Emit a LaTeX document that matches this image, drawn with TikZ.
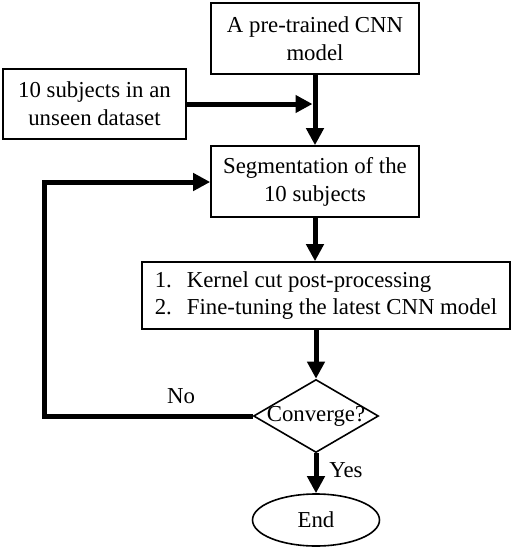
\documentclass[tikz,border=0pt]{standalone}
\usepackage{fontspec}
\setmainfont{Liberation Serif}
\usetikzlibrary{shapes.geometric,arrows.meta}
\begin{document}
\begin{tikzpicture}[x=1pt,y=-1pt,
  every node/.style={font=\fontsize{22.8}{28}\selectfont},
  box/.style={draw,line width=1.6pt,inner sep=0pt,align=center},
  flow/.style={line width=5pt,-{Triangle[length=17pt,width=17pt]}},
  plain/.style={line width=5pt}]
\useasboundingbox (0,0) rectangle (513,550);
\node[box,minimum width=208pt,minimum height=71pt] (A) at (315,38.5) {A pre-trained CNN\\model};
\node[box,minimum width=183pt,minimum height=70pt] (B) at (94.5,104) {10 subjects in an\\unseen dataset};
\node[box,minimum width=208pt,minimum height=71pt] (S) at (315,181.5) {Segmentation of the\\10 subjects};
\node[box,minimum width=368pt,minimum height=67pt] (L) at (326,295.5) {\begin{tabular}{@{}l@{\hspace{15pt}}l@{}}1.&Kernel cut post-processing\\[-1pt]2.&Fine-tuning the latest CNN model\end{tabular}};
\node[draw,diamond,line width=1.6pt,inner sep=0pt,minimum width=125pt,minimum height=73pt] (D) at (316,416) {};
\node[inner sep=0pt] (Dt) at (D.center) {Converge?};
\node[draw,ellipse,line width=1.6pt,inner sep=0pt,minimum width=127pt,minimum height=52pt] (E) at (316,520) {End};
\coordinate (J) at (A.south |- B.east);
\draw[flow] (A.south) -- (S.north);
\draw[flow,shorten >=2.5pt] (B.east) -- (J);
\draw[flow] (S.south) -- (S.south |- L.north);
\draw[flow] (L.south -| D.north) -- (D.north);
\coordinate (c1) at (44,416);
\coordinate (c2) at (44,182);
\draw[plain,-{Triangle[length=17pt,width=17pt]}] (D.west) -- (c1) -- (c2) -- (S.west |- c2);
\draw[flow] (D.south) -- (E.north);
\node[inner sep=0pt] (no) at (181,396) {No};
\node[inner sep=0pt] (yes) at (346,470) {Yes};
\end{tikzpicture}
\end{document}
